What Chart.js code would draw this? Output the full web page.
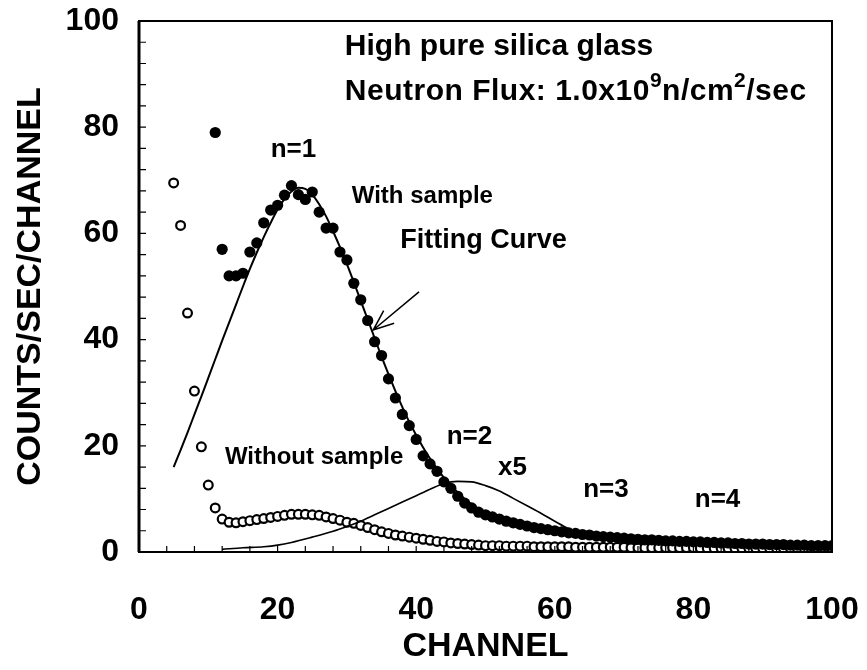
<!DOCTYPE html>
<html>
<head>
<meta charset="utf-8">
<script src="https://cdn.jsdelivr.net/npm/chart.js@4"></script>
<style>
  html, body { margin: 0; padding: 0; background: #fff; }
</style>
</head>
<body>
<canvas id="chart" width="867" height="670"></canvas>
<script>
// with sample: one point per channel starting at channel 11
const withSampleStart = 11;
const withSample = [
  79, 57, 52, 52, 52.5, 56.5, 58.2, 62, 64.4, 65.3,
  67.2, 69, 67.3, 66.4, 67.8, 64, 61, 61, 56.5, 55,
  50.6, 47.5, 43.6, 39.6, 37, 32.6, 29, 25.9, 23.8, 21.2,
  18.1, 16.6, 15.2, 13.2, 12.0, 10.5, 9.2, 8.3, 7.5, 7.0,
  6.6, 6.2, 5.8, 5.5, 5.2, 4.9, 4.6, 4.4, 4.2, 4.0,
  3.8, 3.6, 3.5, 3.3, 3.2, 3.0, 2.9, 2.8, 2.7, 2.6,
  2.5, 2.4, 2.3, 2.3, 2.2, 2.1, 2.1, 2.0, 2.0, 1.9,
  1.9, 1.8, 1.8, 1.7, 1.7, 1.6, 1.6, 1.5, 1.5, 1.5,
  1.4, 1.4, 1.4, 1.3, 1.3, 1.3, 1.2, 1.2, 1.2, 1.2
];

// without sample: one point per channel starting at channel 5
const withoutSampleStart = 5;
const withoutSample = [
  69.5, 61.5, 45, 30.3, 19.8, 12.6,
  8.3, 6.2, 5.6, 5.5, 5.7, 5.9, 6.1, 6.3, 6.5, 6.7,
  6.9, 7.1, 7.1, 7.1, 7.0, 6.9, 6.6, 6.3, 6.0, 5.6,
  5.4, 5.0, 4.6, 4.2, 3.8, 3.5, 3.2, 3.0, 2.8, 2.6,
  2.4, 2.2, 2.0, 1.9, 1.7, 1.6, 1.5, 1.4, 1.3, 1.2,
  1.2, 1.2, 1.1, 1.1, 1.1, 1.1, 1.0, 1.0, 1.0, 1.0,
  1.0, 1.0, 0.9, 0.9, 0.9, 0.9, 0.9, 0.9, 0.9, 0.9,
  0.8, 0.8, 0.8, 0.8, 0.8, 0.8, 0.8, 0.8, 0.8, 0.8,
  0.7, 0.7, 0.7, 0.7, 0.7, 0.7, 0.7, 0.7, 0.7, 0.7,
  0.7, 0.7, 0.7, 0.7, 0.7, 0.7, 0.7, 0.7, 0.7, 0.7
];

// fitting curve
const fitChannels = [5, 6, 7, 8, 9, 10, 11, 12, 13, 14, 15, 16, 17, 18, 19, 20,
  21, 22, 23, 24, 25, 26, 27, 28, 29, 30, 31, 32, 33, 34, 35, 36, 37, 38, 39, 40,
  41, 42, 43, 44, 45, 46, 47, 48, 50, 52, 54, 56, 58, 60, 65, 70, 75, 80, 85, 90, 95, 100];
const fitValues = [16, 19.2, 22.5, 25.9, 29.3, 32.8, 36.3, 39.8, 43.2, 46.6, 50, 53.3, 56.4, 59.3, 62, 64.5,
  66.5, 67.9, 68.6, 68.4, 67.3, 65.5, 63.2, 60.4, 57.4, 54.2, 50.8, 47.3, 43.8, 40.3, 36.8, 33.5, 30.3, 27.3, 24.5, 22,
  19.7, 17.6, 15.7, 14, 12.5, 11.2, 10, 9.0, 7.4, 6.2, 5.4, 4.8, 4.3, 3.9, 3.2, 2.7, 2.3, 2.0, 1.7, 1.5, 1.3, 1.2];

// n=2 component, scaled x5
const n2Channels = [12, 15, 18, 20, 22, 25, 28, 30, 32, 34, 36, 38, 40, 42, 44, 46, 48,
  50, 52, 54, 56, 58, 60, 62, 64, 66, 68, 70, 72];
const n2Values = [0.5, 0.8, 1.0, 1.3, 1.8, 2.8, 3.9, 4.8, 5.8, 7.0, 8.2, 9.4, 10.6, 11.8, 12.9, 13.3, 13.2,
  12.5, 11.5, 10.1, 8.7, 7.3, 5.8, 4.4, 3.4, 2.7, 2.2, 1.8, 1.5];

const xTicks = [0, 20, 40, 60, 80, 100];
const yTicks = [0, 20, 40, 60, 80, 100];

const FONT = "'Liberation Sans', Arial, Helvetica, sans-serif";

function toPoints(start, values) {
  return values.map((v, i) => ({ x: start + i, y: v }));
}
function pairPoints(xs, ys) {
  return xs.map((x, i) => ({ x: x, y: ys[i] }));
}

// text placed in data coordinates; parts flagged 1 are superscripts
const notes = [
  { x: 29.7, y: 95.1, size: 30, parts: [["High pure silica glass"]] },
  { x: 29.7, y: 86.6, size: 30, spacing: 0.5, parts: [["Neutron Flux: 1.0x10"], ["9", 1], ["n/cm"], ["2", 1], ["/sec"]] },
  { x: 19.0, y: 75.7, size: 26, parts: [["n=1"]] },
  { x: 30.7, y: 66.9, size: 24, parts: [["With sample"]] },
  { x: 37.7, y: 58.6, size: 27, parts: [["Fitting Curve"]] },
  { x: 12.4, y: 17.9, size: 24, parts: [["Without sample"]] },
  { x: 44.4, y: 21.7, size: 26, parts: [["n=2"]] },
  { x: 51.8, y: 15.8, size: 26, parts: [["x5"]] },
  { x: 64.1, y: 11.7, size: 26, parts: [["n=3"]] },
  { x: 80.2, y: 9.8, size: 26, parts: [["n=4"]] }
];
const arrowFrom = { x: 40.4, y: 49.0 };
const arrowTo = { x: 33.8, y: 41.8 };

const framePlugin = {
  id: "frame",
  afterDraw(chart) {
    const { ctx, chartArea: a, scales } = chart;
    const xs = scales.x, ys = scales.y;
    ctx.save();
    ctx.strokeStyle = "#000";
    ctx.lineWidth = 2;
    ctx.strokeRect(a.left, a.top, a.right - a.left, a.bottom - a.top);
    ctx.lineWidth = 3;
    ctx.beginPath();
    ctx.moveTo(a.left, a.top);
    ctx.lineTo(a.left, a.bottom);
    ctx.stroke();

    // inward minor ticks every 4 units
    ctx.lineWidth = 1.2;
    ctx.beginPath();
    for (let v = 4; v < 100; v += 4) {
      const py = ys.getPixelForValue(v);
      ctx.moveTo(a.left, py);
      ctx.lineTo(a.left + 7, py);
      const px = xs.getPixelForValue(v);
      ctx.moveTo(px, a.bottom);
      ctx.lineTo(px, a.bottom - 6);
    }
    ctx.stroke();

    // annotations
    ctx.fillStyle = "#000";
    ctx.textBaseline = "middle";
    ctx.textAlign = "left";
    notes.forEach((n) => {
      let px = xs.getPixelForValue(n.x);
      const py = ys.getPixelForValue(n.y);
      ctx.letterSpacing = (n.spacing || 0) + "px";
      n.parts.forEach(([txt, sup]) => {
        const s = sup ? Math.round(n.size * 0.7) : n.size;
        ctx.font = "bold " + s + "px " + FONT;
        ctx.fillText(txt, px, sup ? py - n.size * 0.36 : py);
        px += ctx.measureText(txt).width;
      });
    });
    ctx.letterSpacing = "0px";

    // arrow pointing at the fitting curve
    const x0 = xs.getPixelForValue(arrowFrom.x), y0 = ys.getPixelForValue(arrowFrom.y);
    const x1 = xs.getPixelForValue(arrowTo.x), y1 = ys.getPixelForValue(arrowTo.y);
    const ang = Math.atan2(y1 - y0, x1 - x0);
    ctx.lineWidth = 1.5;
    ctx.beginPath();
    ctx.moveTo(x0, y0);
    ctx.lineTo(x1, y1);
    ctx.moveTo(x1 - 22 * Math.cos(ang - 0.38), y1 - 22 * Math.sin(ang - 0.38));
    ctx.lineTo(x1, y1);
    ctx.lineTo(x1 - 22 * Math.cos(ang + 0.38), y1 - 22 * Math.sin(ang + 0.38));
    ctx.stroke();
    ctx.restore();
  }
};

const tickFont = { family: FONT, size: 32, weight: "bold" };
const titleFont = { family: FONT, size: 34, weight: "bold" };

new Chart(document.getElementById("chart"), {
  type: "scatter",
  data: {
    datasets: [
      {
        label: "Fitting Curve",
        data: pairPoints(fitChannels, fitValues),
        showLine: true,
        borderColor: "#000",
        borderWidth: 2,
        pointRadius: 0,
        cubicInterpolationMode: "monotone",
        order: 1
      },
      {
        label: "n=2 x5",
        data: pairPoints(n2Channels, n2Values),
        showLine: true,
        borderColor: "#000",
        borderWidth: 1.6,
        pointRadius: 0,
        cubicInterpolationMode: "monotone",
        order: 2
      },
      {
        label: "With sample",
        data: toPoints(withSampleStart, withSample),
        pointRadius: 5.6,
        pointBackgroundColor: "#000",
        pointBorderWidth: 0,
        order: 3
      },
      {
        label: "Without sample",
        data: toPoints(withoutSampleStart, withoutSample),
        pointRadius: 4.4,
        pointBackgroundColor: "#fff",
        pointBorderColor: "#000",
        pointBorderWidth: 2.2,
        order: 4
      }
    ]
  },
  options: {
    responsive: false,
    animation: false,
    devicePixelRatio: 1,
    layout: { padding: { left: 10, right: 35, top: 21, bottom: 0 } },
    plugins: { legend: { display: false }, tooltip: { enabled: false } },
    scales: {
      x: {
        type: "linear",
        min: 0,
        max: 100,
        afterBuildTicks: (s) => { s.ticks = xTicks.map((v) => ({ value: v })); },
        afterFit: (s) => { s.height = 118; s.paddingLeft = 0; s.paddingRight = 0; },
        ticks: { color: "#000", font: tickFont, padding: 39, maxRotation: 0 },
        grid: { display: false, drawTicks: false },
        border: { display: false },
        title: { display: true, text: "CHANNEL", color: "#000", font: titleFont, padding: { top: 0, bottom: 3 } }
      },
      y: {
        type: "linear",
        min: 0,
        max: 100,
        afterBuildTicks: (s) => { s.ticks = yTicks.map((v) => ({ value: v })); },
        afterFit: (s) => { s.width = 129; s.paddingTop = 0; s.paddingBottom = 0; },
        ticks: { color: "#000", font: tickFont, padding: 20 },
        grid: { display: false, drawTicks: false },
        border: { display: false },
        title: { display: true, text: "COUNTS/SEC/CHANNEL", color: "#000", font: titleFont, padding: { top: 0, bottom: 16 } }
      }
    }
  },
  plugins: [framePlugin]
});
</script>
</body>
</html>
